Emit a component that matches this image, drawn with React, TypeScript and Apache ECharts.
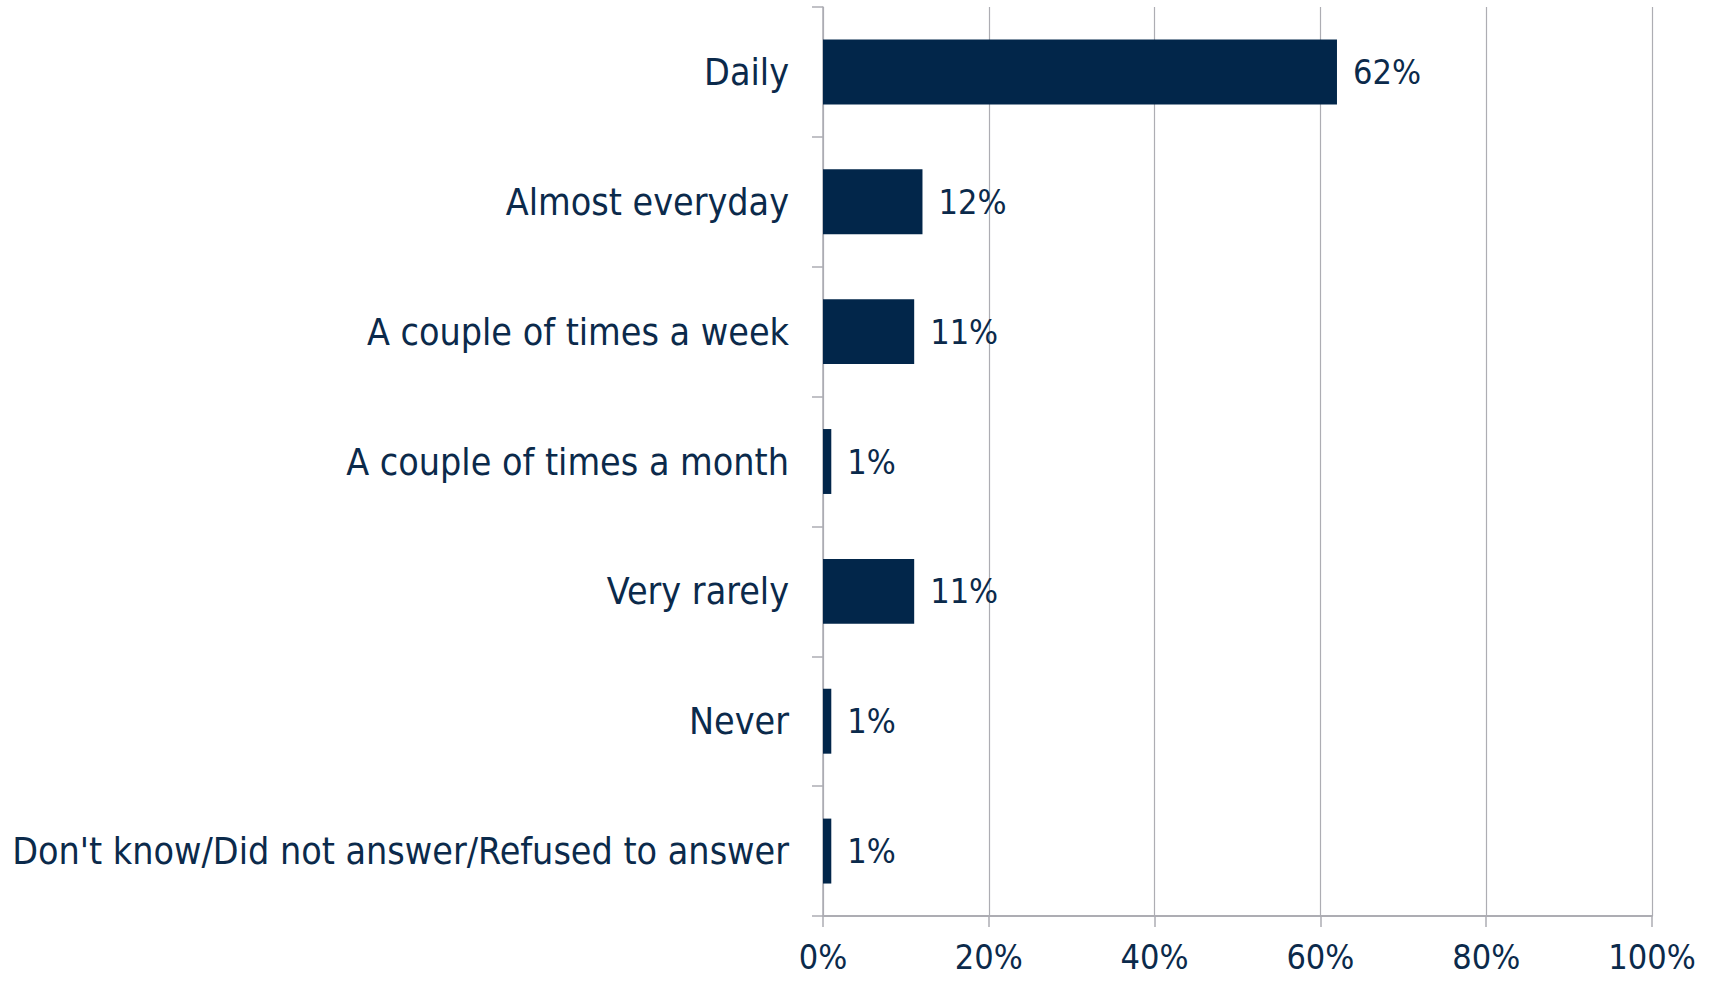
import React, { useEffect, useRef } from "react";
import * as echarts from "echarts";

const categories = [
  "Daily",
  "Almost everyday",
  "A couple of times a week",
  "A couple of times a month",
  "Very rarely",
  "Never",
  "Don't know/Did not answer/Refused to answer",
];
const values = [62, 12, 11, 1, 11, 1, 1];
const xTicks = [0, 20, 40, 60, 80, 100];

const FONT = "'DejaVu Sans Condensed', 'DejaVu Sans', sans-serif";
const NUMFONT = "'DejaVu Sans Condensed', 'DejaVu Sans', sans-serif";
const TEXT = "#0b2a4b";
const BAR = "#02264a";
const GRAY = "#adadb3";

export default function App() {
  const ref = useRef<HTMLDivElement>(null);
  useEffect(() => {
    document.body.style.margin = "0";
    const chart = echarts.init(ref.current!, undefined, { renderer: "svg" });
    chart.setOption({
      animation: false,
      grid: { left: 823, right: 61, top: 7, bottom: 65, containLabel: false },
      xAxis: {
        type: "value",
        min: xTicks[0],
        max: xTicks[xTicks.length - 1],
        interval: 20,
        axisLine: { show: true, lineStyle: { color: GRAY, width: 2 } },
        axisTick: { show: true, length: 11, lineStyle: { color: GRAY, width: 1.5 } },
        splitLine: { show: true, lineStyle: { color: GRAY, width: 1.2 } },
        axisLabel: {
          formatter: (v: number) => v + "%",
          fontFamily: NUMFONT,
          fontSize: 34,
          color: TEXT,
          margin: 24,
        },
      },
      yAxis: {
        type: "category",
        data: categories,
        inverse: true,
        axisLine: { show: true, lineStyle: { color: GRAY, width: 1.5 } },
        axisTick: { show: true, length: 11, lineStyle: { color: GRAY, width: 1.5 } },
        splitLine: { show: false },
        axisLabel: {
          fontFamily: FONT,
          fontSize: 37.3,
          color: TEXT,
          margin: 34,
        },
      },
      series: [
        {
          type: "bar",
          data: values,
          barCategoryGap: "50%",
          itemStyle: { color: BAR },
          label: {
            show: true,
            position: "right",
            distance: 16,
            formatter: (p: any) => p.value + "%",
            fontFamily: NUMFONT,
            fontSize: 34,
            color: TEXT,
          },
        },
      ],
    });
    return () => chart.dispose();
  }, []);
  return <div ref={ref} style={{ width: 1713, height: 981 }} />;
}
